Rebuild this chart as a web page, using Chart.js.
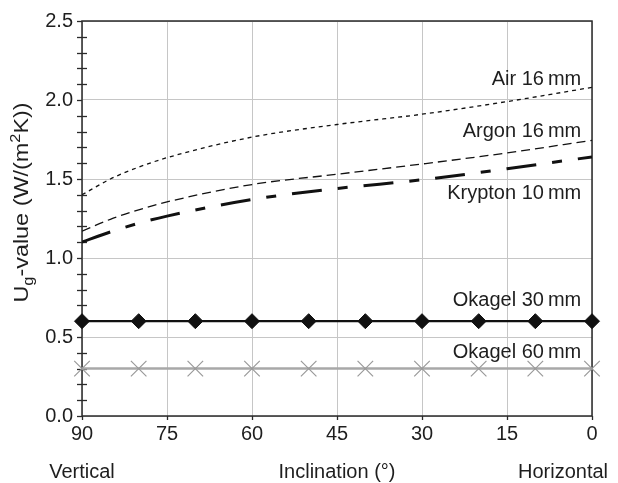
<!DOCTYPE html>
<html>
<head>
<meta charset="utf-8">
<script src="https://cdn.jsdelivr.net/npm/chart.js@4.4.0/dist/chart.umd.min.js"></script>
<style>
  html, body { margin: 0; padding: 0; background: #fff; }
  canvas { display: block; }
</style>
</head>
<body>
<canvas id="chart" width="618" height="483"></canvas>
<script>
// Inclination angles (degrees) for the gas-filled glazing curves
const curveAngles = [90, 85, 80, 75, 60, 45, 30, 15, 0];
// U-values in W/(m²K)
const air16 = [1.40, 1.50, 1.575, 1.635, 1.765, 1.845, 1.91, 1.99, 2.08];
const argon16 = [1.17, 1.245, 1.305, 1.355, 1.465, 1.53, 1.595, 1.665, 1.745];
const krypton10 = [1.10, 1.165, 1.22, 1.265, 1.37, 1.44, 1.495, 1.565, 1.64];

// Aerogel glazing, evaluated every 10 degrees
const okagelAngles = [90, 80, 70, 60, 50, 40, 30, 20, 10, 0];
const okagel30 = [0.6, 0.6, 0.6, 0.6, 0.6, 0.6, 0.6, 0.6, 0.6, 0.6];
const okagel60 = [0.3, 0.3, 0.3, 0.3, 0.3, 0.3, 0.3, 0.3, 0.3, 0.3];

// Axis ticks
const xTickValues = [90, 75, 60, 45, 30, 15, 0];
const yTickValues = [0, 0.5, 1.0, 1.5, 2.0, 2.5];
const yMinorStep = 0.1;

// Series names written next to the curves
const seriesNames = ['Air 16\u2009mm', 'Argon 16\u2009mm', 'Krypton 10\u2009mm', 'Okagel 30\u2009mm', 'Okagel 60\u2009mm'];
// Where each name sits: [angle at right edge of text, U-value at text baseline]
const namePlacement = [[1.9, 2.095], [1.9, 1.763], [1.9, 1.374], [1.9, 0.696], [1.9, 0.370]];

const FONT = '"Liberation Sans", Arial, Helvetica, sans-serif';
const INK = '#1e1e1e';

const toPoints = (xs, ys) => xs.map((a, i) => ({ x: a, y: ys[i] }));

const decor = {
  id: 'decor',
  beforeDatasetsDraw(chart) {
    const { ctx, chartArea: a, scales: { x, y } } = chart;
    ctx.save();
    // frame around the plot
    ctx.strokeStyle = '#2a2a2a';
    ctx.lineWidth = 1.5;
    ctx.strokeRect(a.left, a.top, a.right - a.left, a.bottom - a.top);
    // y ticks: minor ticks cross the axis, major ones point outward
    ctx.lineWidth = 1.3;
    const n = Math.round(2.5 / yMinorStep);
    for (let i = 0; i <= n; i++) {
      const py = Math.round(y.getPixelForValue(i * yMinorStep)) + 0.5;
      const major = i % 5 === 0;
      ctx.beginPath();
      ctx.moveTo(a.left - 5, py);
      ctx.lineTo(major ? a.left : a.left + 5, py);
      ctx.stroke();
    }
    // x ticks below the axis
    for (const t of xTickValues) {
      const px = Math.round(x.getPixelForValue(t)) + 0.5;
      ctx.beginPath();
      ctx.moveTo(px, a.bottom);
      ctx.lineTo(px, a.bottom + 4);
      ctx.stroke();
    }
    ctx.restore();
  },
  afterDraw(chart) {
    const { ctx, chartArea: a, scales: { x, y } } = chart;
    ctx.save();
    ctx.fillStyle = INK;
    ctx.font = '20px ' + FONT;
    ctx.textBaseline = 'alphabetic';
    ctx.textAlign = 'right';
    seriesNames.forEach((name, i) => {
      const [ang, val] = namePlacement[i];
      ctx.fillText(name, x.getPixelForValue(ang), y.getPixelForValue(val));
    });

    // bottom captions
    const base = 478;
    ctx.textAlign = 'center';
    ctx.fillText('Vertical', x.getPixelForValue(90), base);
    ctx.fillText('Inclination (°)', (a.left + a.right) / 2, base);
    ctx.textAlign = 'right';
    ctx.fillText('Horizontal', 608, base);

    // rotated y-axis title with subscript and superscript
    const parts = [
      { t: 'U', size: 20, dy: 0 },
      { t: 'g', size: 14, dy: 5 },
      { t: '-value (W/(m', size: 20, dy: 0 },
      { t: '2', size: 14, dy: -8 },
      { t: 'K))', size: 20, dy: 0 }
    ];
    let total = 0;
    parts.forEach(p => { ctx.font = p.size + 'px ' + FONT; p.w = ctx.measureText(p.t).width; total += p.w; });
    const stretch = 1.17;
    ctx.translate(21, (a.top + a.bottom) / 2 - 16);
    ctx.rotate(-Math.PI / 2);
    ctx.scale(stretch, 1);
    ctx.textAlign = 'left';
    let cx = -total / 2;
    parts.forEach(p => {
      ctx.font = p.size + 'px ' + FONT;
      ctx.fillText(p.t, cx, 7 + p.dy);
      cx += p.w;
    });
    ctx.restore();
  }
};

new Chart(document.getElementById('chart'), {
  type: 'line',
  data: {
    datasets: [
      {
        label: seriesNames[0],
        data: toPoints(curveAngles, air16),
        borderColor: '#111', borderWidth: 1.3, borderDash: [4, 4],
        pointRadius: 0, cubicInterpolationMode: 'monotone', fill: false
      },
      {
        label: seriesNames[1],
        data: toPoints(curveAngles, argon16),
        borderColor: '#111', borderWidth: 1.3, borderDash: [9, 5],
        pointRadius: 0, cubicInterpolationMode: 'monotone', fill: false
      },
      {
        label: seriesNames[2],
        data: toPoints(curveAngles, krypton10),
        borderColor: '#111', borderWidth: 3, borderDash: [30, 16, 10, 16],
        pointRadius: 0, cubicInterpolationMode: 'monotone', fill: false
      },
      {
        label: seriesNames[3],
        data: toPoints(okagelAngles, okagel30),
        borderColor: '#111', borderWidth: 2.2, clip: false,
        pointStyle: 'rectRot', pointRadius: 7.5, pointBackgroundColor: '#111',
        pointBorderColor: '#111', pointBorderWidth: 1, fill: false
      },
      {
        label: seriesNames[4],
        data: toPoints(okagelAngles, okagel60),
        borderColor: '#a8a8a8', borderWidth: 2.5, clip: false,
        pointStyle: 'crossRot', pointRadius: 11, pointBorderColor: '#9a9a9a',
        pointBorderWidth: 1.2, fill: false
      }
    ]
  },
  options: {
    responsive: false,
    devicePixelRatio: 1,
    animation: false,
    layout: { padding: { left: 0, right: 26, top: 17, bottom: 0 } },
    plugins: { legend: { display: false }, tooltip: { enabled: false } },
    scales: {
      x: {
        type: 'linear', reverse: true, min: 0, max: 90,
        afterBuildTicks: s => { s.ticks = xTickValues.map(v => ({ value: v })); },
        afterFit: s => { s.height = 67; },
        ticks: { color: INK, font: { family: FONT, size: 20 }, padding: 6, maxRotation: 0, autoSkip: false,
                 callback: v => String(v) },
        grid: { color: '#c6c6c6', lineWidth: 1, drawTicks: false },
        border: { display: false }
      },
      y: {
        type: 'linear', min: 0, max: 2.5,
        afterBuildTicks: s => { s.ticks = yTickValues.map(v => ({ value: v })); },
        afterFit: s => { s.width = 82; },
        ticks: { color: INK, font: { family: FONT, size: 20 }, padding: 9,
                 callback: v => Number(v).toFixed(1) },
        grid: { color: '#c6c6c6', lineWidth: 1, drawTicks: false },
        border: { display: false }
      }
    }
  },
  plugins: [decor]
});
</script>
</body>
</html>
